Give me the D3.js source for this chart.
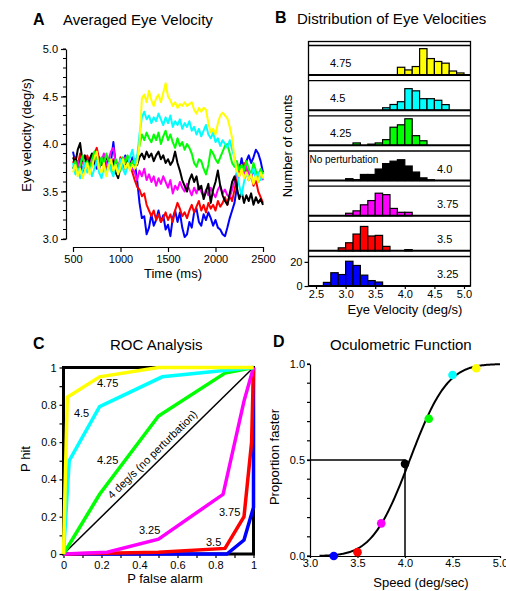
<!DOCTYPE html>
<html><head><meta charset="utf-8">
<script src="https://cdn.jsdelivr.net/npm/d3@7"></script>
<style>body{margin:0;background:#fff}svg{display:block}</style>
</head><body><svg id="c" width="506" height="591"></svg>
<script>
// ---------------- DATA ----------------
// Panel A: averaged eye velocity traces, sampled every 25 ms from 500 to 2500 ms
const timeStart = 500, timeStep = 25;
const velBlue = [3.92,3.80,3.72,3.85,3.70,3.78,3.86,3.75,3.88,3.80,
 3.74,3.86,3.78,3.84,3.72,3.80,3.82,4.02,3.78,3.70,
 3.82,3.76,3.88,3.80,3.74,3.86,3.80,3.62,3.38,3.22,
 3.24,3.05,3.12,3.26,3.14,3.20,3.30,3.18,3.25,3.10,
 3.15,3.03,3.22,3.30,3.18,3.28,3.12,3.02,3.05,3.18,
 3.12,3.28,3.32,3.18,3.14,3.26,3.20,3.28,3.22,3.14,
 3.20,3.12,3.10,3.05,3.03,3.12,3.22,3.30,3.38,3.55,
 3.72,3.85,3.70,3.82,3.88,3.80,3.86,3.94,3.90,3.82,
 3.70];
const velRed = [3.80,3.86,3.78,3.90,3.82,3.75,3.88,3.80,3.84,3.90,
 3.96,3.84,3.78,3.86,3.74,3.82,3.76,3.84,3.78,3.72,
 3.86,3.80,3.74,3.84,3.78,3.70,3.62,3.55,3.52,3.45,
 3.48,3.36,3.30,3.24,3.30,3.20,3.26,3.18,3.22,3.28,
 3.20,3.26,3.18,3.30,3.38,3.32,3.24,3.28,3.22,3.30,
 3.36,3.28,3.34,3.40,3.30,3.36,3.28,3.38,3.32,3.36,
 3.30,3.40,3.34,3.38,3.44,3.36,3.46,3.40,3.52,3.64,
 3.78,3.72,3.80,3.70,3.62,3.68,3.56,3.62,3.50,3.44,
 3.38];
const velMagenta = [3.76,3.70,3.82,3.74,3.86,3.78,3.72,3.84,3.76,3.88,
 3.80,3.74,3.82,3.90,3.78,3.84,3.92,3.96,3.80,3.74,
 3.84,3.78,3.86,3.76,3.82,3.74,3.70,3.62,3.72,3.66,
 3.74,3.62,3.68,3.60,3.66,3.56,3.64,3.58,3.66,3.60,
 3.54,3.62,3.48,3.56,3.52,3.60,3.54,3.50,3.58,3.52,
 3.46,3.54,3.48,3.56,3.50,3.44,3.52,3.46,3.54,3.48,
 3.44,3.52,3.56,3.48,3.52,3.46,3.44,3.52,3.60,3.70,
 3.66,3.74,3.68,3.76,3.70,3.64,3.72,3.66,3.60,3.68,
 3.62];
const velBlack = [3.86,3.80,3.94,4.01,3.82,3.88,3.76,3.84,3.90,3.80,
 3.86,3.78,3.84,3.76,3.88,3.80,3.74,3.82,3.70,3.64,
 3.76,3.82,3.74,3.86,3.80,3.76,3.84,3.78,3.86,3.90,
 3.84,3.92,3.86,3.90,3.82,3.88,3.92,3.84,3.88,3.80,
 3.84,3.78,3.82,3.92,3.80,3.72,3.62,3.56,3.50,3.62,
 3.68,3.60,3.66,3.52,3.56,3.42,3.50,3.58,3.38,3.52,
 3.60,3.72,3.56,3.46,3.40,3.36,3.48,3.60,3.66,3.54,
 3.42,3.50,3.38,3.46,3.40,3.48,3.36,3.44,3.38,3.42,
 3.36];
const velGreen = [3.74,3.82,3.70,3.78,3.88,3.76,3.82,3.72,3.84,3.92,
 3.80,3.74,3.86,3.78,3.90,3.82,3.76,3.70,3.84,3.78,
 3.72,3.86,3.80,3.88,3.76,3.82,3.78,3.86,3.98,4.10,
 4.04,4.12,4.06,4.02,4.10,4.04,4.12,4.00,4.08,4.14,
 4.04,4.10,4.02,3.96,4.06,3.98,4.02,3.94,4.00,3.96,
 3.90,3.80,3.76,3.84,3.82,3.74,3.68,3.78,3.94,3.90,
 3.84,3.80,3.86,3.92,3.98,4.00,3.90,3.80,3.76,3.82,
 3.72,3.78,3.72,3.82,3.74,3.68,3.80,3.72,3.66,3.74,
 3.68];
const velCyan = [3.80,3.68,3.74,3.64,3.72,3.80,3.70,3.76,3.66,3.74,
 3.82,3.70,3.64,3.76,3.68,3.80,3.72,3.66,3.78,3.70,
 3.84,3.74,3.68,3.78,3.86,3.94,3.80,3.86,4.10,4.28,
 4.34,4.26,4.30,4.22,4.28,4.24,4.32,4.26,4.20,4.28,
 4.22,4.30,4.18,4.24,4.20,4.26,4.16,4.22,4.18,4.24,
 4.14,4.18,4.10,4.16,4.08,4.14,4.20,4.10,4.06,4.12,
 4.02,4.06,3.98,4.04,4.00,3.96,4.04,3.94,3.86,3.70,
 3.56,3.46,3.60,3.70,3.62,3.68,3.74,3.64,3.70,3.62,
 3.66];
const velYellow = [3.70,3.78,3.66,3.74,3.64,3.72,3.80,3.68,3.76,3.86,
 3.92,3.74,3.70,3.80,3.66,3.76,3.84,3.72,3.78,3.68,
 3.76,3.84,3.74,3.80,3.72,3.78,3.74,3.80,4.00,4.48,
 4.52,4.44,4.56,4.46,4.40,4.48,4.52,4.44,4.54,4.64,
 4.50,4.46,4.40,4.44,4.38,4.42,4.40,4.44,4.40,4.42,
 4.44,4.36,4.32,4.38,4.34,4.38,4.36,4.22,4.12,4.16,
 4.10,4.22,4.30,4.33,4.30,4.27,4.18,4.06,3.85,3.72,
 3.66,3.74,3.64,3.70,3.62,3.68,3.58,3.66,3.60,3.70,
 3.64];
const timeTicks = [500,1000,1500,2000,2500];
const velTicks = [3.0,3.5,4.0,4.5,5.0];

// Panel B: histograms, bins of 0.125 deg/s starting at 2.5
const binStart = 2.5, binWidth = 0.125;
const histLabels = ["4.75","4.5","4.25","4.0","3.75","3.5","3.25"];
const histYellow  = [0,0,0,0,0,0,0,0,0,0,0,6.4,4.2,7,21.8,13.6,11.2,9.8,3.3,1.7];
const histCyan    = [0,0,0,0,0,0,0,0,0,2,4.7,7,17.8,16,9.5,9.5,8.2,4.6,0,0];
const histGreen   = [0,0,0,0,0,2,0,1,2,4.7,15,17,22,8,3.8,0,0,0,0,0];
const histBlack   = [0,0,0,0,1.5,0.7,5,5,9.5,14,16,17.2,12,7,2.2,0.6,0,0,0,0];
const histMagenta = [0,0,0,0,2,4,9,12.5,18.6,17.4,6,2.8,2.8,0,0,0,0,0,0,0];
const histRed     = [0,0,0,2.5,6.7,13.9,20.2,12.3,12.8,3.7,0,0,1,0,0,0,0,0,0,0];
const histBlue    = [0,3,11,9.5,20.5,17,9,4.5,3.3,0,0,0,0,0,0,0,0,0,0,0];
const histXTicks = [2.5,3.0,3.5,4.0,4.5,5.0];
const countTicks = [0,20];

// Panel C: ROC curves (P false alarm, P hit)
const rocYellowFA  = [0,0.02,0.19,0.5,1];        const rocYellowHit  = [0,0.84,0.95,1,1];
const rocCyanFA    = [0,0.03,0.19,0.52,1];       const rocCyanHit    = [0,0.5,0.79,0.95,1];
const rocGreenFA   = [0,0.19,0.5,0.85,1];        const rocGreenHit   = [0,0.32,0.74,0.97,1];
const rocMagentaFA = [0,0.23,0.5,0.84,0.95,1];   const rocMagentaHit = [0,0.01,0.08,0.32,0.82,1];
const rocRedFA     = [0,0.5,0.85,0.95,0.99,1];   const rocRedHit     = [0,0.01,0.03,0.2,0.6,1];
const rocBlueFA    = [0,0.86,0.95,1,1];          const rocBlueHit    = [0,0,0.075,0.25,1];
const rocChanceFA  = [0,1];                      const rocChanceHit  = [0,1];
const rocTicks = [0,0.1,0.2,0.3,0.4,0.5,0.6,0.7,0.8,0.9,1];
const rocLabels = ["4.75","4.5","4.25","3.25","3.75","3.5"];

// Panel D: oculometric function
const speeds = [3.25,3.5,3.75,4.0,4.25,4.5,4.75];
const propFaster = [0.0,0.02,0.17,0.48,0.715,0.943,0.978];
const fitMu = 4.05, fitSigma = 0.31;   // cumulative Gaussian fit
const speedTicks = [3.0,3.5,4.0,4.5,5.0];
const propTicks = [0.0,0.5,1.0];
const propMinor = [0,0.1,0.2,0.3,0.4,0.5,0.6,0.7,0.8,0.9,1.0];

// ---------------- DRAWING ----------------
const FONT = '"Liberation Sans", Arial, Helvetica, sans-serif';
const COL = {yellow:"#ffff00", cyan:"#00ffff", green:"#00ff00", black:"#000000",
             magenta:"#ff00ff", red:"#ff0000", blue:"#0000ff"};
const svg = d3.select("#c");

function text(x, y, s, o = {}) {
  const t = svg.append("text").attr("x", x).attr("y", y).text(s)
    .attr("font-family", FONT).attr("font-size", o.size || 11)
    .attr("fill", "#000").attr("text-anchor", o.anchor || "start");
  if (o.bold) t.attr("font-weight", "bold");
  if (o.rotate !== undefined) t.attr("transform", `rotate(${o.rotate},${x},${y})`);
  return t;
}
function styleAxis(g, size = 11) {
  g.attr("font-family", FONT).attr("font-size", size);
  g.selectAll("path,line").attr("stroke", "#000").attr("stroke-width", 1.2);
  g.selectAll("text").attr("fill", "#000");
  return g;
}

// ===== Panel A =====
const xA = d3.scaleLinear().domain([500, 2500]).range([73, 263]);
const yA = d3.scaleLinear().domain([3, 5]).range([239, 49]);
text(33, 25, "A", {size: 16, bold: true});
text(63, 25, "Averaged Eye Velocity", {size: 15});
styleAxis(svg.append("g").attr("transform", "translate(66,0)")
  .call(d3.axisLeft(yA).tickValues(velTicks).tickFormat(d3.format(".1f"))
        .tickSize(5).tickPadding(3).tickSizeOuter(0)));
svg.append("g").selectAll("line").data(d3.range(30, 51).map(v => v / 10)).join("line")
  .attr("x1", 63).attr("x2", 66).attr("y1", d => yA(d)).attr("y2", d => yA(d))
  .attr("stroke", "#000").attr("stroke-width", 1);
styleAxis(svg.append("g").attr("transform", "translate(0,247)")
  .call(d3.axisBottom(xA).tickValues(timeTicks).tickFormat(d3.format("d"))
        .tickSize(5).tickPadding(3).tickSizeOuter(0)));
text(173, 278, "Time (ms)", {size: 13, anchor: "middle"});
text(31, 135, "Eye velocity (deg/s)", {size: 13, anchor: "middle", rotate: -90});

const lineA = d3.line().x((d, i) => xA(timeStart + i * timeStep)).y(d => yA(d));
[[velBlue, COL.blue], [velRed, COL.red], [velMagenta, COL.magenta], [velBlack, COL.black],
 [velGreen, COL.green], [velCyan, COL.cyan], [velYellow, COL.yellow]].forEach(([s, c]) => {
  svg.append("path").attr("d", lineA(s)).attr("fill", "none").attr("stroke", c)
    .attr("stroke-width", 2).attr("stroke-linejoin", "round");
});

// ===== Panel B =====
const xB = d3.scaleLinear().domain([2.5, 5]).range([316, 464]);
text(275, 23, "B", {size: 16, bold: true});
text(297, 24, "Distribution of Eye Velocities", {size: 15});
const frameL = 308.5, frameR = 470.5, frameTop = 41.5;
const pitch = 35.17, bottom0 = 75, panelH = 29.5;
const hists = [[histYellow, COL.yellow], [histCyan, COL.cyan], [histGreen, COL.green],
  [histBlack, COL.black], [histMagenta, COL.magenta], [histRed, COL.red], [histBlue, COL.blue]];
const lastBottom = bottom0 + pitch * 6;
svg.append("rect").attr("x", frameL).attr("y", frameTop).attr("width", frameR - frameL)
  .attr("height", lastBottom - frameTop).attr("fill", "none").attr("stroke", "#000").attr("stroke-width", 1.3);
const barW = xB(binStart + binWidth) - xB(binStart);
let yBlast = null;
hists.forEach(([counts, c], i) => {
  const bottom = bottom0 + pitch * i, top = bottom - panelH;
  const yB = d3.scaleLinear().domain([0, 24]).range([bottom, bottom - 29]);
  if (i === 6) yBlast = yB;
  svg.append("line").attr("x1", frameL).attr("x2", frameR).attr("y1", top).attr("y2", top)
    .attr("stroke", "#000").attr("stroke-width", 1.3);
  const bars = counts.map((v, k) => ({v, x0: binStart + k * binWidth})).filter(d => d.v > 0);
  svg.append("g").selectAll("rect").data(bars).join("rect")
    .attr("x", d => xB(d.x0)).attr("width", barW)
    .attr("y", d => yB(d.v)).attr("height", d => bottom - yB(d.v))
    .attr("fill", c).attr("stroke", "#000").attr("stroke-width", 1.2);
  svg.append("line").attr("x1", frameL).attr("x2", frameR).attr("y1", bottom).attr("y2", bottom)
    .attr("stroke", "#000").attr("stroke-width", 2);
  const left = i < 3;
  text(left ? 330 : 437, bottom - 8, histLabels[i], {size: 11});
  if (i === 3) text(309.5, 163, "No perturbation", {size: 10});
});
const gyB = styleAxis(svg.append("g").attr("transform", `translate(${frameL},0)`)
  .call(d3.axisLeft(yBlast).tickValues(countTicks).tickSize(4).tickPadding(2)));
gyB.select(".domain").remove();
const gxB = styleAxis(svg.append("g").attr("transform", `translate(0,${lastBottom})`)
  .call(d3.axisBottom(xB).tickValues(histXTicks).tickFormat(d3.format(".1f")).tickSize(3).tickPadding(1)));
gxB.select(".domain").remove();
text(405, 314, "Eye Velocity (deg/s)", {size: 13, anchor: "middle"});
text(291.5, 146, "Number of counts", {size: 13, anchor: "middle", rotate: -90});

// ===== Panel C =====
const xC = d3.scaleLinear().domain([0, 1]).range([63.5, 253.5]);
const yC = d3.scaleLinear().domain([0, 1]).range([554, 367.5]);
text(33, 349, "C", {size: 16, bold: true});
text(110, 350, "ROC Analysis", {size: 15});
const fmtC = v => (Math.round(v * 10) % 2 === 0) ? String(+v.toFixed(1)) : "";
const gyC = styleAxis(svg.append("g").attr("transform", `translate(${xC(0)},0)`)
  .call(d3.axisLeft(yC).tickValues(rocTicks).tickFormat(fmtC).tickSize(4).tickPadding(3)));
gyC.select(".domain").remove();
const gxC = styleAxis(svg.append("g").attr("transform", `translate(0,${yC(0)})`)
  .call(d3.axisBottom(xC).tickValues(rocTicks).tickFormat(fmtC).tickSize(4).tickPadding(3)));
gxC.select(".domain").remove();
svg.append("rect").attr("x", xC(0)).attr("y", yC(1)).attr("width", xC(1) - xC(0))
  .attr("height", yC(0) - yC(1)).attr("fill", "none").attr("stroke", "#000").attr("stroke-width", 3);
const lineC = d3.line().x(d => xC(d[0])).y(d => yC(d[1]));
const zip = (a, b) => a.map((v, i) => [v, b[i]]);
svg.append("path").attr("d", lineC(zip(rocChanceFA, rocChanceHit))).attr("fill", "none")
  .attr("stroke", "#000").attr("stroke-width", 1.5);
[[rocBlueFA, rocBlueHit, COL.blue], [rocRedFA, rocRedHit, COL.red],
 [rocMagentaFA, rocMagentaHit, COL.magenta], [rocGreenFA, rocGreenHit, COL.green],
 [rocCyanFA, rocCyanHit, COL.cyan], [rocYellowFA, rocYellowHit, COL.yellow]].forEach(([a, b, c]) => {
  svg.append("path").attr("d", lineC(zip(a, b))).attr("fill", "none").attr("stroke", c)
    .attr("stroke-width", 3.5).attr("stroke-linejoin", "miter");
});
const rocLabelPos = [[0.176, 0.895], [0.055, 0.735], [0.176, 0.483], [0.397, 0.107], [0.818, 0.204], [0.75, 0.043]];
rocLabels.forEach((s, i) => text(xC(rocLabelPos[i][0]), yC(rocLabelPos[i][1]), s, {size: 11}));
const diagAngle = -Math.atan2(yC(0) - yC(1), xC(1) - xC(0)) * 180 / Math.PI;
text(xC(0.5), yC(0.5) - 5, "4 deg/s (no perturbation)", {size: 11, anchor: "middle"})
  .attr("transform", `translate(${xC(0.5)},${yC(0.5)}) rotate(${diagAngle}) translate(${-xC(0.5)},${-yC(0.5)})`);
text(165, 583, "P false alarm", {size: 13, anchor: "middle"});
text(29.5, 459, "P hit", {size: 13, anchor: "middle", rotate: -90});

// ===== Panel D =====
const xD = d3.scaleLinear().domain([3, 5]).range([310, 500]);
const yD = d3.scaleLinear().domain([0, 1]).range([556, 364]);
text(273, 347, "D", {size: 16, bold: true});
text(330, 350, "Oculometric Function", {size: 15});
svg.append("g").selectAll("line").data(propMinor).join("line")
  .attr("x1", xD(3) - 3).attr("x2", xD(3)).attr("y1", d => yD(d)).attr("y2", d => yD(d))
  .attr("stroke", "#000").attr("stroke-width", 1.2);
styleAxis(svg.append("g").attr("transform", `translate(${xD(3)},0)`)
  .call(d3.axisLeft(yD).tickValues(propTicks).tickFormat(d3.format(".1f")).tickSize(3).tickPadding(2).tickSizeOuter(0)));
styleAxis(svg.append("g").attr("transform", `translate(0,${yD(0)})`)
  .call(d3.axisBottom(xD).tickValues(speedTicks).tickFormat(d3.format(".1f")).tickSize(2).tickPadding(1).tickSizeOuter(0)));
text(421, 587, "Speed (deg/sec)", {size: 13, anchor: "middle"});
text(279, 457, "Proportion faster", {size: 13, anchor: "middle", rotate: -90});

function erf(x) {
  const s = Math.sign(x); x = Math.abs(x);
  const t = 1 / (1 + 0.3275911 * x);
  const y = 1 - (((((1.061405429 * t - 1.453152027) * t) + 1.421413741) * t - 0.284496736) * t + 0.254829592) * t * Math.exp(-x * x);
  return s * y;
}
const cdf = v => 0.5 * (1 + erf((v - fitMu) / (fitSigma * Math.SQRT2)));
const fitX = d3.range(310, 501, 1).map(v => v / 100);
svg.append("path").attr("d", d3.line().x(d => xD(d)).y(d => yD(cdf(d)))(fitX))
  .attr("fill", "none").attr("stroke", "#000").attr("stroke-width", 2);
svg.append("path").attr("d", `M${xD(3)},${yD(0.5)}H${xD(4)}V${yD(0)}`)
  .attr("fill", "none").attr("stroke", "#000").attr("stroke-width", 1.5);
const dotCols = [COL.blue, COL.red, COL.magenta, COL.black, COL.green, COL.cyan, COL.yellow];
svg.append("g").selectAll("circle").data(speeds).join("circle")
  .attr("cx", d => xD(d)).attr("cy", (d, i) => yD(propFaster[i])).attr("r", 4.3)
  .attr("fill", (d, i) => dotCols[i]);
</script></body></html>
